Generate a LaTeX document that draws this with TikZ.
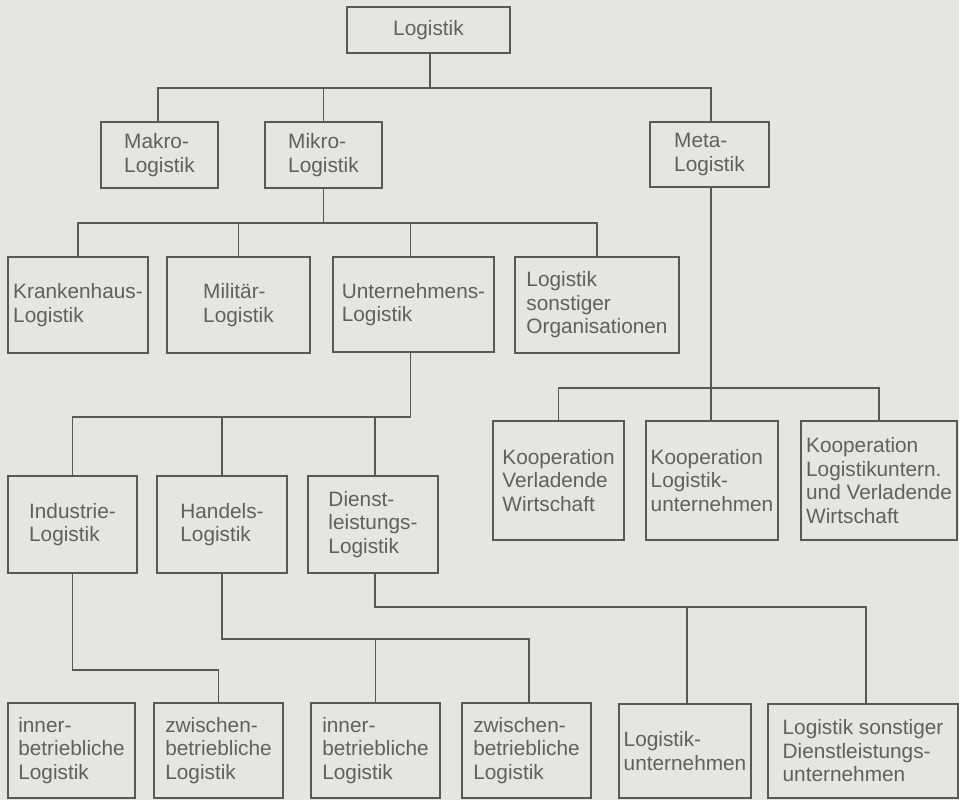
\documentclass[tikz,border=0pt]{standalone}
\usepackage{fontspec}
\setmainfont{Liberation Sans}
\definecolor{bgc}{RGB}{229,229,227}
\definecolor{ink}{RGB}{88,88,88}
\definecolor{txt}{RGB}{96,96,96}
\begin{document}
\begin{tikzpicture}[x=1pt,y=-1pt,
  box/.style={draw=ink,line width=2.2pt,rectangle,inner sep=1pt,align=left,
    text=txt,font=\fontsize{20.8}{23.5}\selectfont},
  conn/.style={draw=ink,line width=1.3pt}]
\useasboundingbox (0,0) rectangle (959,800);
\fill[bgc] (0,0) rectangle (959,800);
% level 0
\node[box,minimum width=163pt,minimum height=46pt,align=center] (L) at (428.5,30) {Logistik};
% level 1
\node[box,minimum width=117pt,minimum height=66pt] (makro) at (159.5,155) {Makro-\\Logistik};
\node[box,minimum width=117pt,minimum height=66pt] (mikro) at (323.5,155) {Mikro-\\Logistik};
\node[box,minimum width=119pt,minimum height=65pt] (meta) at (709.5,154.5) {Meta-\\Logistik};
% level 2
\node[box,minimum width=140pt,minimum height=96pt] (kh) at (78,305) {Krankenhaus-\\Logistik};
\node[box,minimum width=143pt,minimum height=96pt] (mil) at (238.5,305) {Militär-\\Logistik};
\node[box,minimum width=161pt,minimum height=95pt] (unt) at (413.5,304.5) {Unternehmens-\\Logistik};
\node[box,minimum width=164pt,minimum height=96pt] (lso) at (597,305) {Logistik\\sonstiger\\Organisationen};
% meta children
\node[box,minimum width=131pt,minimum height=119pt] (kvw) at (558.5,480.5) {Kooperation\\Verladende\\Wirtschaft};
\node[box,minimum width=132pt,minimum height=119pt] (klu) at (712,480.5) {Kooperation\\Logistik-\\unternehmen};
\node[box,minimum width=156pt,minimum height=119pt,inner sep=0pt] (kluvw) at (879,480.5) {Kooperation\\Logistikuntern.\\und Verladende\\Wirtschaft};
% level 3
\node[box,minimum width=129pt,minimum height=97pt] (ind) at (72.5,524.5) {Industrie-\\Logistik};
\node[box,minimum width=130pt,minimum height=97pt] (han) at (222,524.5) {Handels-\\Logistik};
\node[box,minimum width=130pt,minimum height=97pt] (die) at (373,524.5) {Dienst-\\leistungs-\\Logistik};
% level 4
\node[box,minimum width=127pt,minimum height=95pt] (in1) at (71.5,750.5) {inner-\\betriebliche\\Logistik};
\node[box,minimum width=129pt,minimum height=95pt] (zw1) at (218.5,750.5) {zwischen-\\betriebliche\\Logistik};
\node[box,minimum width=129pt,minimum height=95pt] (in2) at (375.5,750.5) {inner-\\betriebliche\\Logistik};
\node[box,minimum width=129pt,minimum height=95pt] (zw2) at (526.5,750.5) {zwischen-\\betriebliche\\Logistik};
\node[box,minimum width=132pt,minimum height=94pt] (lu) at (685,751) {Logistik-\\unternehmen};
\node[box,minimum width=190pt,minimum height=94pt] (lsdl) at (863,751) {Logistik sonstiger\\Dienstleistungs-\\unternehmen};
% bars
\coordinate (b1) at (0,88);
\coordinate (b2) at (0,223);
\coordinate (b3) at (0,388);
\coordinate (b4) at (0,417);
\coordinate (b5) at (0,670);
\coordinate (b6) at (0,639);
\coordinate (b7) at (0,607);
% connectors
\draw[conn] ([xshift=1.5pt]L.south) -- ([xshift=1.5pt]L.south |- b1);
\draw[conn] ([xshift=-1.5pt]makro.north) -- ([xshift=-1.5pt]makro.north |- b1) -- ([xshift=1.5pt]meta.north |- b1) -- ([xshift=1.5pt]meta.north);
\draw[conn] (mikro.north) -- (mikro.north |- b1);
\draw[conn] (mikro.south) -- (mikro.south |- b2);
\draw[conn] (kh.north) -- (kh.north |- b2) -- (lso.north |- b2) -- (lso.north);
\draw[conn] (mil.north) -- (mil.north |- b2);
\draw[conn] ([xshift=-3pt]unt.north) -- ([xshift=-3pt]unt.north |- b2);
\draw[conn] ([xshift=1.5pt]meta.south) -- ([xshift=1.5pt]meta.south |- klu.north);
\draw[conn] (kvw.north) -- (kvw.north |- b3) -- (kluvw.north |- b3) -- (kluvw.north);
\draw[conn] ([xshift=-3pt]unt.south) -- ([xshift=-3pt]unt.south |- b4) -- (ind.north |- b4) -- (ind.north);
\draw[conn] (han.north) -- (han.north |- b4);
\draw[conn] ([xshift=2pt]die.north) -- ([xshift=2pt]die.north |- b4);
\draw[conn] (ind.south) -- (ind.south |- b5) -- (zw1.north |- b5) -- (zw1.north);
\draw[conn] (han.south) -- (han.south |- b6) -- ([xshift=2.5pt]zw2.north |- b6) -- ([xshift=2.5pt]zw2.north);
\draw[conn] (in2.north) -- (in2.north |- b6);
\draw[conn] ([xshift=2pt]die.south) -- ([xshift=2pt]die.south |- b7) -- ([xshift=3pt]lsdl.north |- b7) -- ([xshift=3pt]lsdl.north);
\draw[conn] ([xshift=2pt]lu.north) -- ([xshift=2pt]lu.north |- b7);
\end{tikzpicture}
\end{document}
